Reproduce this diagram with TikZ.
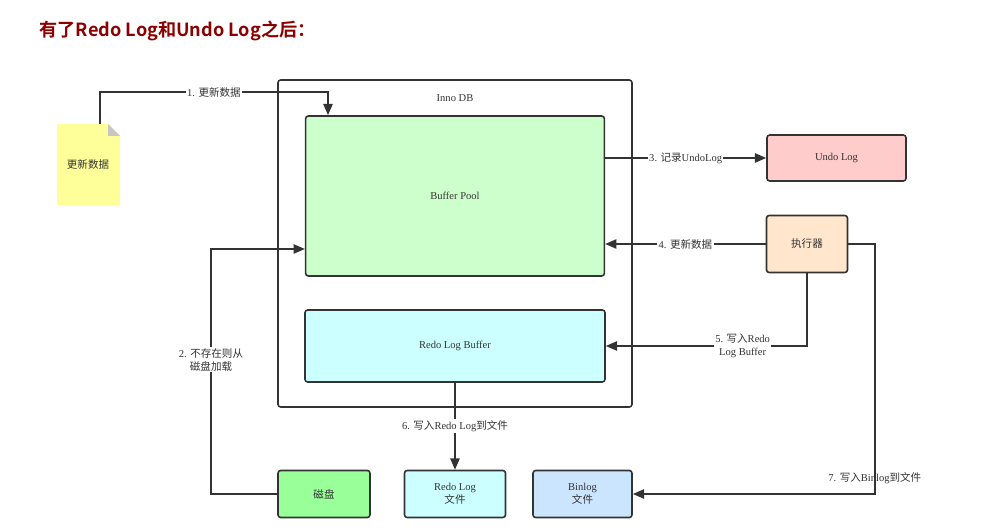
\documentclass[tikz,border=0pt]{standalone}
\usepackage{fontspec}
\setmainfont{Liberation Serif}
\newfontfamily\cjk{Noto Sans CJK SC}[BoldFont={Noto Sans CJK SC Bold}]
\usetikzlibrary{arrows.meta}

\definecolor{linegray}{HTML}{333333}
\definecolor{titlered}{HTML}{8B0000}
\definecolor{poolgreen}{HTML}{CCFFCC}
\definecolor{buffcyan}{HTML}{CCFFFF}
\definecolor{undopink}{HTML}{FFCCCC}
\definecolor{execorange}{HTML}{FFE6CC}
\definecolor{diskgreen}{HTML}{99FF99}
\definecolor{binblue}{HTML}{CCE5FF}
\definecolor{noteyellow}{HTML}{FFFF99}

\newcommand{\zh}[1]{{\cjk #1}}
\newcommand{\smallfont}{\fontsize{7.9}{9.7}\selectfont}

\tikzstyle{box} = [draw=linegray, line width=1.2pt, rounded corners=2pt, align=center, text=linegray, font=\smallfont]
\tikzstyle{flow} = [draw=linegray, line width=1.2pt, -{Triangle[length=8.5pt,width=7pt]}]
\tikzstyle{lbl} = [text=linegray, align=center, font=\smallfont, inner sep=1pt, fill=white]

\begin{document}
\begin{tikzpicture}[x=0.75pt, y=-0.75pt]
\useasboundingbox (0,0) rectangle (983,528);
\node[anchor=west, text=titlered, font=\cjk\bfseries\fontsize{13.6}{16}\selectfont] (title) at (35,31) {有了Redo Log和Undo Log之后：};

\fill[noteyellow] (57,124) -- (108,124) -- (120,136) -- (120,205) -- (57,205) -- cycle;
\fill[gray!45] (108,124) -- (120,136) -- (108,136) -- cycle;
\node[minimum width=47.25pt, minimum height=60.75pt, text=linegray, font=\smallfont] (note) at (88,164.5) {\zh{更新数据}};

\node[box, minimum width=265.5pt, minimum height=245.25pt, label={[lbl, fill=none, anchor=north, yshift=-10pt]north:Inno DB}] (innodb) at (455,243.5) {};
\node[box, fill=poolgreen, minimum width=224pt, minimum height=120pt] (pool) at (455,196) {Buffer Pool};
\node[box, fill=buffcyan, minimum width=225pt, minimum height=54pt] (rbuf) at (455,346) {Redo Log Buffer};
\node[box, fill=undopink, minimum width=104.25pt, minimum height=34.5pt] (undo) at (836.5,158) {Undo Log};
\node[box, fill=execorange, minimum width=60.75pt, minimum height=42.75pt] (exec) at (807,244) {\zh{执行器}};
\node[box, fill=diskgreen, minimum width=69pt, minimum height=35.25pt] (disk) at (324,494) {\zh{磁盘}};
\node[box, fill=buffcyan, minimum width=75.75pt, minimum height=35.25pt] (rlog) at (455,494) {Redo Log\\\zh{文件}};
\node[box, fill=binblue, minimum width=74.25pt, minimum height=35.25pt] (binlog) at (582.5,494) {Binlog\\\zh{文件}};

\coordinate (bend1) at (328,92);
\coordinate (bend2) at (211,249);
\draw[flow] ([xshift=9pt]note.north) |- node[lbl, pos=0.75] {1. \zh{更新数据}} (bend1) -- (bend1 |- pool.north);
\draw[flow] (disk.west) -| node[lbl, pos=0.774] {2. \zh{不存在则从}\\\zh{磁盘加载}} (bend2) -- (bend2 -| pool.west);
\draw[flow] (pool.east |- undo.west) -- node[lbl] {3. \zh{记录}UndoLog} (undo.west);
\draw[flow] (exec.west) -- node[lbl] {4. \zh{更新数据}} (exec.west -| pool.east);
\draw[flow] (exec.south) |- node[lbl, pos=0.66] {5. \zh{写入}Redo\\Log Buffer} (rbuf.east);
\draw[flow] (rbuf.south) -- node[lbl] {6. \zh{写入}Redo Log\zh{到文件}} (rlog.north);
\draw[flow] (exec.east) -- ++(26.5,0) |- node[lbl, fill=none, pos=0.468] {7. \zh{写入}Binlog\zh{到文件}} (binlog.east);
\end{tikzpicture}
\end{document}
